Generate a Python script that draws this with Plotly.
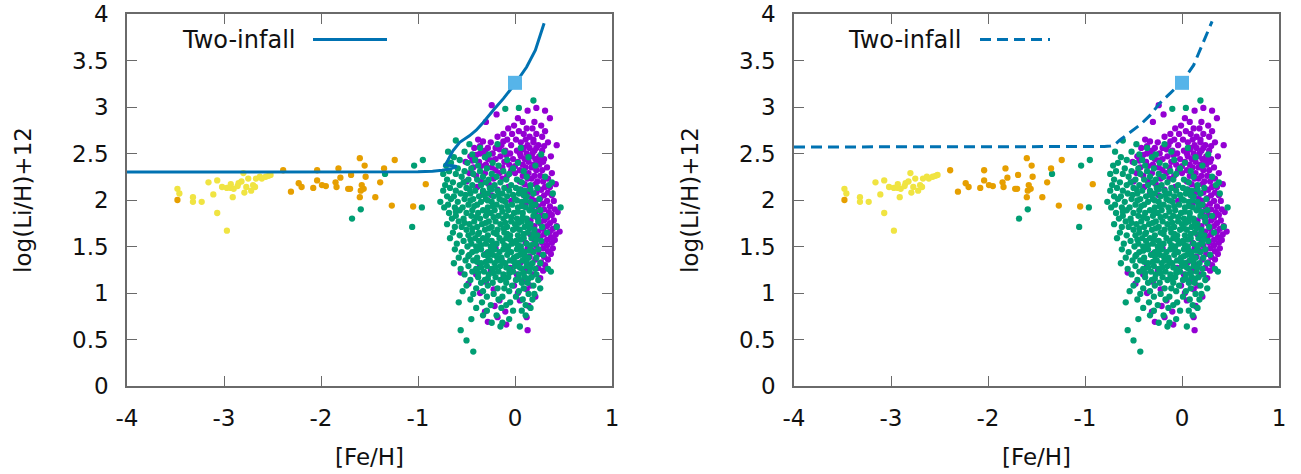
import plotly.graph_objects as go

# ---------------- data ----------------
# halo / low-metallicity stars (yellow)
yellow_feh = [-3.48, -3.46, -3.32, -3.32, -3.23, -3.16, -3.11, -3.07, -3.07, -3.02, -2.97, -2.97,
              -2.93, -2.93, -2.90, -2.91, -2.85, -2.82, -2.80, -2.79, -2.75, -2.77, -2.70, -2.68,
              -2.67, -2.63, -2.61, -2.57, -2.54, -2.52, -2.86, -2.72]
yellow_li = [2.12, 2.07, 2.03, 1.98, 1.98, 2.19, 2.06, 2.21, 1.86, 2.14, 2.13, 1.67,
             2.17, 2.13, 2.12, 2.03, 2.18, 2.20, 2.29, 2.08, 2.23, 2.14, 2.16, 2.14,
             2.23, 2.25, 2.23, 2.25, 2.26, 2.27, 2.15, 2.10]

# intermediate stars (orange)
orange_feh = [-3.48, -2.39, -2.31, -2.23, -2.20, -2.08, -2.04, -2.04, -1.99, -1.95, -1.85, -1.84,
              -1.82, -1.80, -1.72, -1.70, -1.69, -1.60, -1.60, -1.58, -1.56, -1.55, -1.54, -1.44,
              -1.39, -1.35, -1.27, -1.24, -1.05, -0.92, -1.59]
orange_li = [2.00, 2.32, 2.09, 2.18, 2.14, 2.13, 2.32, 2.21, 2.16, 2.15, 2.19, 2.14,
             2.34, 2.24, 2.12, 2.12, 2.27, 2.45, 2.03, 2.16, 2.12, 2.37, 2.25, 2.03,
             2.19, 2.34, 1.94, 2.43, 1.93, 2.17, 2.10]

# disc sample (green): rows of A(Li) with the [Fe/H] values read on them
green_rows = [
    (3.07, [0.19]), (2.98, [-0.10]), (2.99, [0.04]),
    (2.64, [-0.61]), (2.60, [-0.47, -0.18]), (2.56, [-0.36, 0.06]),
    (2.52, [-0.69, -0.52, -0.11]), (2.49, [-0.44, -0.27, 0.27]),
    (2.46, [-0.63, -0.31, 0.14]), (2.43, [-0.57, -0.41, -0.08]),
    (2.40, [-0.66, -0.49, -0.23, 0.03]), (2.37, [-0.71, -0.38, -0.17, 0.21]),
    (2.34, [-0.59, -0.45, -0.29, -0.02]), (2.31, [-0.68, -0.52, -0.36, -0.12, 0.09]),
    (2.28, [-0.74, -0.61, -0.43, -0.24, -0.06]), (2.25, [-0.55, -0.33, -0.19, 0.12, 0.31]),
    (2.22, [-0.70, -0.48, -0.39, -0.27, -0.09, 0.02]),
    (2.19, [-0.64, -0.53, -0.30, -0.15, 0.07, 0.38]),
    (2.16, [-0.72, -0.57, -0.44, -0.35, -0.21, -0.04, 0.16, 0.35]),
    (2.13, [-0.67, -0.50, -0.26, -0.11, 0.01, 0.23]),
    (2.10, [-0.74, -0.61, -0.41, -0.33, -0.18, -0.06, 0.10]),
    (2.07, [-0.56, -0.46, -0.28, -0.13, 0.04, 0.19, 0.39]),
    (2.04, [-0.70, -0.63, -0.37, -0.22, -0.08, 0.12]),
    (2.01, [-0.66, -0.52, -0.43, -0.30, -0.16, 0.00, 0.25]),
    (1.98, [-0.77, -0.59, -0.35, -0.24, -0.10, 0.07, 0.16]),
    (1.95, [-0.69, -0.48, -0.39, -0.19, -0.03, 0.21]),
    (1.92, [-0.96, -0.73, -0.62, -0.54, -0.28, -0.14, 0.03, 0.11, 0.47]),
    (1.89, [-0.57, -0.44, -0.33, -0.21, -0.07, 0.15, 0.26]),
    (1.86, [-0.68, -0.50, -0.38, -0.25, -0.01, 0.08]),
    (1.83, [-0.61, -0.45, -0.30, -0.17, -0.09, 0.19, 0.31]),
    (1.80, [-0.65, -0.53, -0.36, -0.12, 0.02, 0.12]),
    (1.77, [-0.58, -0.42, -0.27, -0.20, -0.04, 0.07, 0.24]),
    (1.74, [-0.70, -0.47, -0.34, -0.15, 0.00, 0.16]),
    (1.71, [-1.06, -0.62, -0.55, -0.39, -0.24, -0.08, 0.10, 0.28, 0.43]),
    (1.68, [-0.50, -0.31, -0.18, -0.02, 0.05, 0.20]),
    (1.65, [-0.64, -0.44, -0.37, -0.22, -0.11, 0.13, 0.33]),
    (1.62, [-0.57, -0.48, -0.28, -0.05, 0.03, 0.23]),
    (1.59, [-0.67, -0.41, -0.33, -0.16, -0.09, 0.09, 0.17]),
    (1.56, [-0.53, -0.37, -0.24, -0.13, 0.01, 0.27]),
    (1.53, [-0.60, -0.45, -0.30, -0.19, -0.03, 0.12, 0.21]),
    (1.50, [-0.49, -0.40, -0.25, -0.07, 0.06, 0.16]),
    (1.47, [-0.62, -0.35, -0.21, -0.12, 0.02, 0.24]),
    (1.44, [-0.55, -0.44, -0.28, -0.16, -0.04, 0.10, 0.19]),
    (1.41, [-0.47, -0.32, -0.23, -0.08, 0.05, 0.29]),
    (1.38, [-0.58, -0.39, -0.14, -0.01, 0.14, 0.22]),
    (1.35, [-0.51, -0.43, -0.26, -0.18, -0.05, 0.08]),
    (1.32, [-0.63, -0.35, -0.21, -0.10, 0.03, 0.18, 0.26]),
    (1.29, [-0.48, -0.29, -0.15, 0.00, 0.12]),
    (1.26, [-0.56, -0.40, -0.24, -0.06, 0.07, 0.21, 0.34]),
    (1.23, [-0.44, -0.32, -0.17, -0.02, 0.15, 0.37]),
    (1.20, [-0.52, -0.27, -0.12, 0.04, 0.22]),
    (1.17, [-0.38, -0.20, -0.07, 0.10, 0.17]),
    (1.14, [-0.46, -0.31, -0.15, 0.01, 0.24]),
    (1.11, [-0.35, -0.23, -0.09, 0.07, 0.13]),
    (1.08, [-0.50, -0.28, -0.03, 0.19]),
    (1.05, [-0.40, -0.18, -0.11, 0.09, 0.26]),
    (1.02, [-0.54, -0.33, -0.06, 0.04]),
    (0.99, [-0.43, -0.22, 0.14, 0.20]),
    (0.96, [-0.29, -0.13, 0.01]),
    (0.93, [-0.46, -0.17, 0.08, 0.18]),
    (0.90, [-0.58, -0.34, -0.05]),
    (0.87, [-0.25, -0.09, 0.11]),
    (0.84, [-0.40, -0.14, 0.16]),
    (0.81, [-0.29, -0.02, 0.07]),
    (0.76, [-0.33, -0.19, 0.11]),
    (0.72, [-0.45, -0.06]), (0.68, [-0.24, -0.13]), (0.64, [-0.15, 0.05]),
    (0.60, [-0.56]), (0.49, [-0.50]), (0.37, [-0.43]),
    (1.80, [-1.68]), (1.90, [-1.59]), (2.28, [-1.34]), (2.37, [-1.04]), (2.43, [-0.95]),
    # densest part of the green core
    (2.115, [-0.47, -0.24, 0.05, 0.16]), (2.055, [-0.51, -0.32, -0.17, -0.02, 0.09]),
    (1.995, [-0.46, -0.28, -0.13, 0.02, 0.11]), (1.935, [-0.42, -0.23, -0.08, 0.07, 0.17]),
    (1.875, [-0.61, -0.29, -0.13, 0.03, 0.20]), (1.815, [-0.40, -0.22, -0.04, 0.08, 0.24]),
    (1.755, [-0.52, -0.30, -0.10, 0.04, 0.13]), (1.695, [-0.44, -0.27, -0.12, 0.02, 0.15]),
    (1.635, [-0.38, -0.19, -0.08, 0.09, 0.19]), (1.575, [-0.46, -0.29, -0.05, 0.06, 0.22]),
    (1.515, [-0.35, -0.22, -0.11, 0.03, 0.17]), (1.455, [-0.40, -0.25, -0.07, 0.07, 0.15]),
    (1.395, [-0.48, -0.28, -0.19, 0.02, 0.10]), (1.335, [-0.39, -0.30, -0.13, -0.01, 0.12]),
    (1.275, [-0.35, -0.20, -0.09, 0.05, 0.16]), (1.215, [-0.38, -0.22, -0.06, 0.09]),
    (1.155, [-0.28, -0.11, 0.04, 0.14]),
]

# disc sample (purple): rows of A(Li) with the [Fe/H] values read on them
purple_rows = [
    (3.02, [-0.24]), (2.99, [0.22]), (2.96, [0.13, 0.31]), (2.92, [-0.19]),
    (2.88, [0.03, 0.36]), (2.84, [-0.30, 0.08, 0.20]), (2.80, [-0.01, 0.27]),
    (2.77, [-0.07, 0.12, 0.18]), (2.74, [0.04, 0.31]),
    (2.71, [-0.12, -0.03, 0.09, 0.22]), (2.68, [-0.18, 0.15, 0.28]),
    (2.65, [-0.38, -0.08, 0.01, 0.11, 0.19]), (2.62, [-0.25, 0.06, 0.19, 0.34]),
    (2.59, [-0.14, -0.04, 0.13, 0.24, 0.43]), (2.56, [-0.42, -0.28, -0.20, 0.09, 0.15, 0.22]),
    (2.53, [-0.31, -0.10, 0.02, 0.20, 0.28]), (2.50, [-0.36, -0.23, -0.05, 0.05, 0.12, 0.18]),
    (2.47, [-0.46, -0.15, 0.06, 0.17, 0.25, 0.37]), (2.44, [-0.28, -0.20, -0.02, 0.10, 0.21, 0.30]),
    (2.41, [-0.51, -0.37, -0.11, 0.03, 0.14, 0.29]), (2.38, [-0.30, -0.06, 0.08, 0.19, 0.25]),
    (2.35, [-0.43, -0.24, -0.13, 0.11, 0.17, 0.33]), (2.32, [-0.20, -0.04, 0.05, 0.22, 0.28]),
    (2.29, [-0.47, -0.31, -0.16, 0.00, 0.14, 0.38]), (2.26, [-0.40, -0.08, 0.08, 0.20, 0.26]),
    (2.23, [-0.22, -0.13, 0.13, 0.17, 0.34]), (2.20, [-0.50, -0.35, 0.05, 0.23, 0.29]),
    (2.17, [-0.27, 0.10, 0.21, 0.42]), (2.14, [-0.39, -0.07, 0.15, 0.31, 0.36]),
    (2.11, [-0.18, 0.06, 0.27]), (2.08, [-0.33, 0.14, 0.22, 0.34]),
    (2.05, [-0.24, 0.09, 0.30, 0.38]), (2.02, [0.17, 0.26]),
    (1.99, [-0.04, 0.21, 0.33, 0.40]), (1.96, [0.11, 0.29]), (1.93, [0.18, 0.24, 0.36]),
    (1.90, [0.30, 0.41]), (1.87, [0.21, 0.35, 0.44]), (1.84, [0.27, 0.38]),
    (1.81, [0.23, 0.33]), (1.78, [0.16, 0.30, 0.40]), (1.75, [0.26, 0.36]),
    (1.72, [0.20, 0.33, 0.43]), (1.69, [0.29, 0.39]), (1.66, [0.24, 0.36, 0.46]),
    (1.63, [0.16, 0.30, 0.42]), (1.60, [0.26, 0.37]), (1.57, [0.20, 0.33, 0.41]),
    (1.54, [0.11, 0.28, 0.38]), (1.51, [0.22, 0.33]), (1.48, [-0.20, 0.13, 0.29, 0.39]),
    (1.45, [0.19, 0.34]), (1.42, [-0.30, 0.09, 0.25, 0.37]), (1.39, [0.15, 0.30]),
    (1.36, [-0.14, 0.21, 0.34]), (1.33, [0.06, 0.27]), (1.30, [-0.36, 0.15, 0.31]),
    (1.27, [-0.05, 0.24]), (1.24, [-0.25, 0.11, 0.29]), (1.22, [-0.56]),
    (1.20, [-0.40, 0.02, 0.19]), (1.16, [-0.12, 0.26]), (1.12, [-0.30, 0.08]),
    (1.10, [-0.48]), (1.08, [-0.01, 0.16]), (1.04, [-0.22, 0.12]), (1.00, [-0.36, 0.03]),
    (0.96, [0.21]), (0.92, [-0.16, 0.05]), (0.86, [-0.21, 0.14]), (0.80, [-0.31, -0.10]),
    (0.74, [-0.18, 0.12]), (0.69, [-0.28]), (0.66, [-0.09]), (0.60, [0.13]),
    # extra stars in the upper purple clump
    (2.63, [-0.33, -0.12]), (2.58, [-0.36, 0.30]), (2.545, [-0.16, 0.08]),
    (2.485, [-0.40, -0.30, -0.09]), (2.425, [-0.44, -0.24, 0.24]), (2.365, [-0.35, 0.00]),
]

# Sun
sun_feh = [0.0]
sun_li = [3.26]

# Two-infall model, left panel (solid)
model_a_feh = [-4.0, -3.0, -2.0, -1.5, -1.0, -0.85, -0.75, -0.65, -0.60, -0.66, -0.72,
               -0.69, -0.64, -0.57, -0.47, -0.40, -0.33, -0.22, -0.12, 0.0, 0.12, 0.21, 0.27, 0.30]
model_a_li = [2.30, 2.30, 2.30, 2.30, 2.305, 2.31, 2.32, 2.34, 2.36, 2.37, 2.375,
              2.43, 2.53, 2.62, 2.69, 2.75, 2.83, 2.97, 3.09, 3.25, 3.43, 3.61, 3.79, 3.90]

# Two-infall model, right panel (dashed)
model_b_feh = [-4.0, -3.0, -2.0, -1.0, -0.80, -0.74, -0.70, -0.64, -0.54, -0.43, -0.33,
               -0.23, -0.12, 0.0, 0.12, 0.22, 0.31]
model_b_li = [2.57, 2.57, 2.57, 2.57, 2.575, 2.58, 2.59, 2.645, 2.72, 2.81, 2.91,
              3.04, 3.15, 3.27, 3.45, 3.69, 3.92]

x_ticks = [-4, -3, -2, -1, 0, 1]
x_ticklabels = ["-4", "-3", "-2", "-1", "0", "1"]
y_ticks = [0, 0.5, 1, 1.5, 2, 2.5, 3, 3.5, 4]
y_ticklabels = ["0", "0.5", "1", "1.5", "2", "2.5", "3", "3.5", "4"]
legend_label = "Two-infall"
x_title = "[Fe/H]"
y_title = "log(Li/H)+12"

# ---------------- build ----------------
def flatten(rows):
    xs, ys = [], []
    for yv, xl in rows:
        for xv in xl:
            xs.append(xv)
            ys.append(yv)
    return xs, ys

green_feh, green_li = flatten(green_rows)
purple_feh, purple_li = flatten(purple_rows)

C_YEL = "#f0e442"
C_ORA = "#e69f00"
C_GRN = "#009e73"
C_PUR = "#9400d3"
C_SUN = "#56b4e9"
C_LINE = "#0072b2"
FONT = "DejaVu Sans"
W, H = 1301, 474
MS = 6.3
DASH = "11px,6px"

def px_x(p):                 # window pixel -> paper fraction
    return p / W

def px_y(p):
    return 1 - p / H

fig = go.Figure()
for k, (xa, ya, dash) in enumerate([("x", "y", "solid"), ("x2", "y2", DASH)]):
    fig.add_trace(go.Scatter(x=purple_feh, y=purple_li, mode="markers", xaxis=xa, yaxis=ya,
                             marker=dict(color=C_PUR, size=MS, line=dict(width=0)), showlegend=False))
    fig.add_trace(go.Scatter(x=green_feh, y=green_li, mode="markers", xaxis=xa, yaxis=ya,
                             marker=dict(color=C_GRN, size=MS, line=dict(width=0)), showlegend=False))
    fig.add_trace(go.Scatter(x=yellow_feh, y=yellow_li, mode="markers", xaxis=xa, yaxis=ya,
                             marker=dict(color=C_YEL, size=MS, line=dict(width=0)), showlegend=False))
    fig.add_trace(go.Scatter(x=orange_feh, y=orange_li, mode="markers", xaxis=xa, yaxis=ya,
                             marker=dict(color=C_ORA, size=MS, line=dict(width=0)), showlegend=False))
    mx, my = (model_a_feh, model_a_li) if k == 0 else (model_b_feh, model_b_li)
    fig.add_trace(go.Scatter(x=mx, y=my, mode="lines", xaxis=xa, yaxis=ya, name=legend_label,
                             line=dict(color=C_LINE, width=3, dash=dash), showlegend=False))
    fig.add_trace(go.Scatter(x=sun_feh, y=sun_li, mode="markers", xaxis=xa, yaxis=ya,
                             marker=dict(color=C_SUN, size=14, symbol="square", line=dict(width=0)),
                             showlegend=False))

frame = "#6a6a6a"
def xax(domain, anchor):
    return dict(domain=domain, anchor=anchor, range=[-4, 1], tickvals=x_ticks, ticktext=x_ticklabels,
                ticks="inside", ticklen=10, tickcolor=frame, tickwidth=1.3,
                showline=True, linecolor=frame, linewidth=1.5, mirror="ticks",
                showgrid=False, zeroline=False, ticklabelstandoff=11, automargin=False,
                ticklabeloverflow="allow",
                tickfont=dict(family=FONT, size=23, color="#111"),
                title=dict(text=x_title, font=dict(family=FONT, size=23, color="#111"), standoff=19))

def yax(domain, anchor):
    return dict(domain=domain, anchor=anchor, range=[0, 4], tickvals=y_ticks, ticktext=y_ticklabels,
                ticks="inside", ticklen=10, tickcolor=frame, tickwidth=1.3,
                showline=True, linecolor=frame, linewidth=1.5, mirror="ticks",
                showgrid=False, zeroline=False, ticklabelstandoff=12, automargin=False,
                ticklabeloverflow="allow",
                tickfont=dict(family=FONT, size=23, color="#111"),
                title=dict(text=y_title, font=dict(family=FONT, size=23, color="#111"), standoff=34))

ydom = [px_y(386), px_y(14)]
fig.update_layout(
    width=W, height=H, margin=dict(l=0, r=0, t=0, b=0),
    paper_bgcolor="white", plot_bgcolor="white", showlegend=False,
    xaxis=xax([px_x(127), px_x(612)], "y"), yaxis=yax(ydom, "x"),
    xaxis2=xax([px_x(794), px_x(1279)], "y2"), yaxis2=yax(ydom, "x2"),
)

# gnuplot-style key: label followed by the line sample
for (tx, l0, l1, dash) in [(297, 313, 387, "solid"), (963, 980, 1050, DASH)]:
    fig.add_annotation(x=px_x(tx), y=px_y(40), xref="paper", yref="paper", text=legend_label,
                       showarrow=False, xanchor="right", yanchor="middle",
                       font=dict(family=FONT, size=24, color="#111"))
    fig.add_shape(type="line", xref="paper", yref="paper", x0=px_x(l0), x1=px_x(l1),
                  y0=px_y(39.5), y1=px_y(39.5), line=dict(color=C_LINE, width=3, dash=dash))

# the page body must not add its default 8px margin around the figure
fig.write_html("out.html", config={"displayModeBar": False},
               post_script="document.body.style.margin='0';document.body.style.overflow='hidden';")
